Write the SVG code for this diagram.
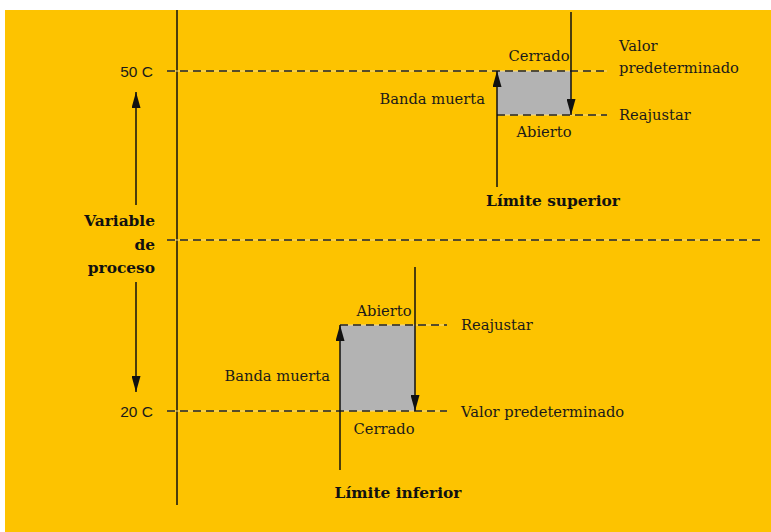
<svg xmlns="http://www.w3.org/2000/svg" width="771" height="532" viewBox="0 0 771 532">
<defs>
<marker id="ah" viewBox="0 0 16 9" refX="16" refY="4.5" markerWidth="16" markerHeight="9" markerUnits="userSpaceOnUse" orient="auto">
<path d="M0,0 L16,4.5 L0,9 z" fill="#111"/>
</marker>
</defs>
<style>
.t{font-family:"DejaVu Serif","Liberation Serif",serif;font-size:14.7px;fill:#1a1a1a}
.b{font-family:"DejaVu Serif","Liberation Serif",serif;font-size:15.4px;font-weight:bold;fill:#111}
.n{font-family:"Liberation Sans",Arial,sans-serif;font-size:15.5px;fill:#1a1a1a}
.dash{stroke:#222;stroke-width:1.3;stroke-dasharray:8 5;fill:none}
.under{stroke:#f6dc8a;stroke-width:1;fill:none}
.ln{stroke:#111;stroke-width:1.5;fill:none}
.box{fill:#b3b3b3}
</style>
<rect x="0" y="0" width="771" height="532" fill="#ffffff"/>
<rect x="5" y="10" width="766" height="522" fill="#fdc300"/>
<g id="axis">
<line class="ln" x1="177" y1="10" x2="177" y2="505"/>
<text class="n" x="153" y="77" text-anchor="end">50 C</text>
<text class="n" x="153" y="417" text-anchor="end">20 C</text>
</g>
<g id="variable">
<text class="b" x="155" y="226" text-anchor="end">Variable</text>
<text class="b" x="155" y="250" text-anchor="end">de</text>
<text class="b" x="155" y="273" text-anchor="end">proceso</text>
</g>
<g id="upper-box">
<rect class="box" x="497" y="71" width="74" height="44"/>
</g>
<g id="lower-box">
<rect class="box" x="340" y="325" width="75" height="86"/>
</g>
<g id="connectors">
<line class="under" x1="167" y1="71" x2="607" y2="71"/>
<line class="dash" x1="167" y1="71" x2="607" y2="71"/>
<line class="under" x1="167" y1="240" x2="760" y2="240"/>
<line class="dash" x1="167" y1="240" x2="760" y2="240"/>
<line class="under" x1="167" y1="411" x2="447" y2="411"/>
<line class="dash" x1="167" y1="411" x2="447" y2="411"/>
<line class="under" x1="497" y1="115" x2="607" y2="115"/>
<line class="dash" x1="497" y1="115" x2="607" y2="115"/>
<line class="under" x1="340" y1="325" x2="447" y2="325"/>
<line class="dash" x1="340" y1="325" x2="447" y2="325"/>
<line class="ln" x1="136" y1="205" x2="136" y2="92" marker-end="url(#ah)"/>
<line class="ln" x1="136" y1="282" x2="136" y2="392" marker-end="url(#ah)"/>
<line class="ln" x1="497" y1="187" x2="497" y2="71" marker-end="url(#ah)"/>
<line class="ln" x1="571" y1="12" x2="571" y2="115" marker-end="url(#ah)"/>
<line class="ln" x1="340" y1="470" x2="340" y2="325" marker-end="url(#ah)"/>
<line class="ln" x1="415" y1="267" x2="415" y2="411" marker-end="url(#ah)"/>
</g>
<g id="upper-labels">
<text class="t" x="539" y="61" text-anchor="middle">Cerrado</text>
<text class="t" x="544" y="137" text-anchor="middle">Abierto</text>
<text class="t" x="485" y="104" text-anchor="end">Banda muerta</text>
<text class="t" x="619" y="51">Valor</text>
<text class="t" x="619" y="73">predeterminado</text>
<text class="t" x="619" y="120">Reajustar</text>
<text class="b" x="553" y="206" text-anchor="middle">Límite superior</text>
</g>
<g id="lower-labels">
<text class="t" x="384" y="316" text-anchor="middle">Abierto</text>
<text class="t" x="384" y="434" text-anchor="middle">Cerrado</text>
<text class="t" x="330" y="381" text-anchor="end">Banda muerta</text>
<text class="t" x="461" y="330">Reajustar</text>
<text class="t" x="461" y="417">Valor predeterminado</text>
<text class="b" x="398" y="498" text-anchor="middle">Límite inferior</text>
</g>
</svg>
